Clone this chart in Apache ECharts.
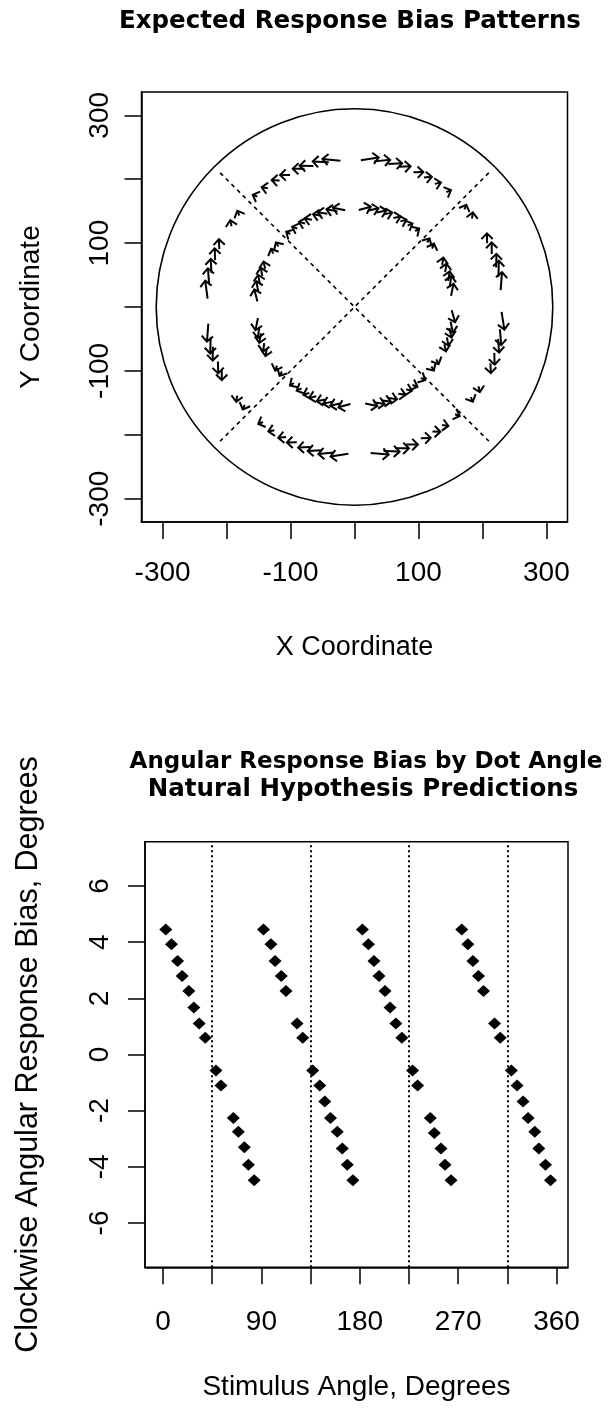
<!DOCTYPE html>
<html>
<head>
<meta charset="utf-8">
<script src="https://cdn.jsdelivr.net/npm/echarts@6/dist/echarts.min.js"></script>
<style>
html,body{margin:0;padding:0;background:#fff;}
#chart{width:608px;height:1411px;}
</style>
</head>
<body>
<div id="chart"></div>
<script>
// ---------- data ----------
// stimulus angle (degrees, clockwise from top) of every dot
const stimulusAngles = [
  2.5, 7.7, 13.3, 17.5, 23.6, 28.2, 33.1, 38.6, 48.4, 53.0, 64.3, 68.9, 74.4, 78.1, 83.4,
  91.9, 98.7, 102.5, 108.2, 112.5, 122.6, 127.8, 136.9, 143.4, 148.0, 153.2, 159.4, 164.0, 168.6, 173.7,
  182.4, 187.9, 193.0, 197.6, 203.1, 207.7, 213.0, 218.5, 228.3, 232.9, 244.5, 248.2, 254.3, 258.0, 263.5,
  273.3, 278.9, 283.5, 288.6, 293.2, 303.3, 308.5, 318.7, 323.9, 329.4, 334.0, 340.1, 343.8, 349.9, 354.5
];
// clockwise angular response bias (degrees) of every dot
const biasDegrees = [
  4.45, 3.93, 3.33, 2.80, 2.26, 1.67, 1.10, 0.60, -0.57, -1.10, -2.26, -2.75, -3.30, -3.93, -4.48,
  4.45, 3.93, 3.33, 2.80, 2.26, 1.10, 0.60, -0.57, -1.10, -1.67, -2.26, -2.75, -3.35, -3.93, -4.48,
  4.45, 3.93, 3.33, 2.80, 2.26, 1.67, 1.10, 0.60, -0.57, -1.10, -2.26, -2.80, -3.35, -3.93, -4.48,
  4.45, 3.93, 3.33, 2.80, 2.26, 1.10, 0.60, -0.57, -1.10, -1.67, -2.26, -2.75, -3.35, -3.93, -4.48
];
// rings of dots in the top panel (radius, coordinate units)
const ringRadii = [152, 230];
// outward radial shift of the expected response (coordinate units)
const radialShift = [7, 7];
// outer boundary circle radius
const boundaryRadius = [310];
// dashed diagonal boundaries
const diagonalA = [[-210, 210], [210, -210]];
const diagonalB = [[210, 210], [-210, -210]];
// dotted category boundaries in the bottom panel
const dividerAngles = [45, 135, 225, 315];
// ticks and tick labels
const xyTicksTop = [-300, -200, -100, 0, 100, 200, 300];
const xyLabelsTop = [-300, -100, 100, 300];
const angleTicks = [0, 45, 90, 135, 180, 225, 270, 315, 360];
const angleLabels = [0, 90, 180, 270, 360];
const biasTicks = [-6, -4, -2, 0, 2, 4, 6];

// ---------- build series data ----------
const arrowData = [];
ringRadii.forEach((r, k) => {
  stimulusAngles.forEach((a, i) => arrowData.push([r, a, biasDegrees[i], radialShift[k]]));
});
const scatterData = stimulusAngles.map((a, i) => [a, biasDegrees[i]]);

const FONT = '"Liberation Sans", Arial, sans-serif';
const TFONT = '"DejaVu Sans", sans-serif';
const axisCommon = {
  axisLine: {show: true, onZero: false, lineStyle: {color: '#000', width: 1.5}},
  axisTick: {show: true, inside: false, length: 17, lineStyle: {color: '#000', width: 1.5}},
  splitLine: {show: false},
  nameLocation: 'middle',
  nameTextStyle: {color: '#000', fontFamily: FONT, fontSize: 28}
};

const chart = echarts.init(document.getElementById('chart'), null, {renderer: 'canvas'});
const option = {
  animation: false,
  backgroundColor: '#fff',
  grid: [
    {left: 141.5, top: 92, width: 426, height: 430, show: true, borderColor: '#000', borderWidth: 1.5, backgroundColor: 'transparent'},
    {left: 145, top: 841.7, width: 423, height: 425.6, show: true, borderColor: '#000', borderWidth: 1.5, backgroundColor: 'transparent'}
  ],
  xAxis: [
    Object.assign({}, axisCommon, {
      gridIndex: 0, type: 'value', min: -333, max: 333, name: 'X Coordinate', nameGap: 112,
      nameTextStyle: {color: '#000', fontFamily: FONT, fontSize: 27},
      axisTick: Object.assign({}, axisCommon.axisTick, {customValues: xyTicksTop}),
      axisLabel: {customValues: xyLabelsTop, color: '#000', fontFamily: FONT, fontSize: 28, margin: 37}
    }),
    Object.assign({}, axisCommon, {
      gridIndex: 1, type: 'value', min: -16.5, max: 370.5, name: 'Stimulus Angle, Degrees', nameGap: 106,
      axisTick: Object.assign({}, axisCommon.axisTick, {customValues: angleTicks}),
      axisLabel: {customValues: angleLabels, color: '#000', fontFamily: FONT, fontSize: 28, margin: 41}
    })
  ],
  yAxis: [
    Object.assign({}, axisCommon, {
      gridIndex: 0, type: 'value', min: -336.5, max: 336.5, name: 'Y Coordinate', nameGap: 96,
      axisTick: Object.assign({}, axisCommon.axisTick, {customValues: xyTicksTop}),
      axisLabel: {customValues: xyLabelsTop, rotate: 90, color: '#000', fontFamily: FONT, fontSize: 28, margin: 27}
    }),
    Object.assign({}, axisCommon, {
      gridIndex: 1, type: 'value', min: -7.58, max: 7.58, name: 'Clockwise Angular Response Bias, Degrees', nameGap: 101,
      nameTextStyle: {color: '#000', fontFamily: FONT, fontSize: 30.5},
      axisTick: Object.assign({}, axisCommon.axisTick, {customValues: biasTicks}),
      axisLabel: {customValues: biasTicks, rotate: 90, color: '#000', fontFamily: FONT, fontSize: 28, margin: 31}
    })
  ],
  graphic: [
    {type: 'text', x: 350, y: 22, style: {text: 'Expected Response Bias Patterns', fill: '#000', font: 'bold 24.5px ' + TFONT, align: 'center', verticalAlign: 'middle'}},
    {type: 'text', x: 366, y: 762, style: {text: 'Angular Response Bias by Dot Angle', fill: '#000', font: 'bold 23px ' + TFONT, align: 'center', verticalAlign: 'middle'}},
    {type: 'text', x: 363, y: 790, style: {text: 'Natural Hypothesis Predictions', fill: '#000', font: 'bold 24.5px ' + TFONT, align: 'center', verticalAlign: 'middle'}}
  ],
  series: [
    {
      type: 'custom', xAxisIndex: 0, yAxisIndex: 0, clip: false, silent: true,
      data: boundaryRadius.map(r => [0, 0, r]),
      renderItem: (params, api) => {
        const c = api.coord([api.value(0), api.value(1)]);
        const rp = api.size([api.value(2), 0])[0];
        return {type: 'circle', shape: {cx: c[0], cy: c[1], r: rp}, style: {fill: 'none', stroke: '#000', lineWidth: 1.6}};
      }
    },
    {type: 'line', xAxisIndex: 0, yAxisIndex: 0, data: diagonalA, symbol: 'none', silent: true,
     lineStyle: {color: '#000', width: 1.6, type: [4, 4]}},
    {type: 'line', xAxisIndex: 0, yAxisIndex: 0, data: diagonalB, symbol: 'none', silent: true,
     lineStyle: {color: '#000', width: 1.6, type: [4, 4]}},
    {
      type: 'custom', xAxisIndex: 0, yAxisIndex: 0, clip: false, silent: true,
      data: arrowData,
      renderItem: (params, api) => {
        const r = api.value(0), phi = api.value(1), b = api.value(2), dr = api.value(3);
        const t0 = (90 - phi) * Math.PI / 180;
        const t1 = (90 - phi - b * 1.5) * Math.PI / 180;
        const r1 = r + dr;
        const p0 = api.coord([r * Math.cos(t0), r * Math.sin(t0)]);
        const p1 = api.coord([r1 * Math.cos(t1), r1 * Math.sin(t1)]);
        const ang = Math.atan2(p1[1] - p0[1], p1[0] - p0[0]);
        const L = 8, A = 45 * Math.PI / 180;
        const h1 = [p1[0] - L * Math.cos(ang - A), p1[1] - L * Math.sin(ang - A)];
        const h2 = [p1[0] - L * Math.cos(ang + A), p1[1] - L * Math.sin(ang + A)];
        const st = {stroke: '#000', lineWidth: 2, fill: null, lineJoin: 'miter'};
        return {type: 'group', children: [
          {type: 'polyline', shape: {points: [p0, p1]}, style: st},
          {type: 'polyline', shape: {points: [h1, p1, h2]}, style: st}
        ]};
      }
    },
    {
      type: 'scatter', xAxisIndex: 1, yAxisIndex: 1, data: scatterData,
      symbol: 'diamond', symbolSize: [13, 12], itemStyle: {color: '#000', opacity: 1}, silent: true,
      markLine: {
        silent: true, symbol: ['none', 'none'], label: {show: false},
        lineStyle: {color: '#000', width: 2, type: [2, 3]},
        data: dividerAngles.map(a => ({xAxis: a}))
      }
    }
  ]
};
chart.setOption(option);
</script>
</body>
</html>
